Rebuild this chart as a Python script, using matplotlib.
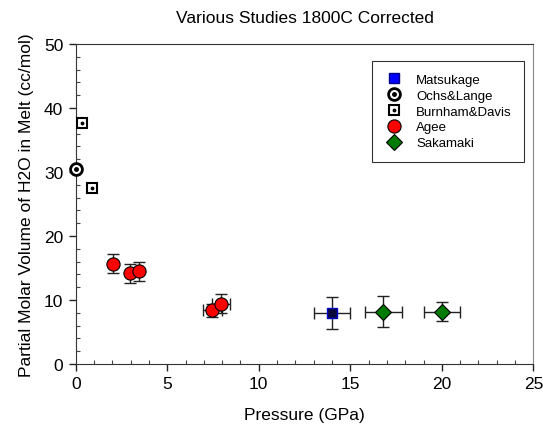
import matplotlib
matplotlib.use('Agg')
import matplotlib.pyplot as plt
from matplotlib.lines import Line2D
from matplotlib.ticker import MultipleLocator

plt.rcParams['font.family'] = ['Liberation Sans', 'DejaVu Sans']

# data
matsukage_p = [14.0]
matsukage_v = [8.0]
matsukage_perr = [1.0]
matsukage_verr = [2.5]

ochs_p = [0.0]
ochs_v = [30.5]

burnham_p = [0.33, 0.87]
burnham_v = [37.6, 27.5]

agee_p = [2.05, 2.96, 3.47, 7.47, 7.93]
agee_v = [15.7, 14.2, 14.5, 8.4, 9.4]
agee_perr = [0.0, 0.0, 0.0, 0.5, 0.5]
agee_verr = [1.5, 1.5, 1.5, 1.0, 1.5]

saka_p = [16.8, 20.0]
saka_v = [8.2, 8.2]
saka_perr = [1.0, 1.0]
saka_verr = [2.4, 1.5]

fig = plt.figure(figsize=(5.43, 4.27), dpi=100)
ax = fig.add_axes([0.1394, 0.1452, 0.8428, 0.7494])

eb = dict(fmt='none', ecolor='#222222', elinewidth=1, capsize=4, capthick=1, zorder=2)

ax.errorbar(agee_p, agee_v, xerr=agee_perr, yerr=agee_verr, **eb)
ax.errorbar(matsukage_p, matsukage_v, xerr=matsukage_perr, yerr=matsukage_verr, **eb)
ax.errorbar(saka_p, saka_v, xerr=saka_perr, yerr=saka_verr, **eb)

ax.plot(matsukage_p, matsukage_v, 's', ms=7, mfc='#0a0a3a', mec='#0000cc', mew=1, zorder=3)
ax.plot(saka_p, saka_v, 'D', ms=8, mfc='#007a00', mec='black', mew=0.8, zorder=3)
ax.plot(agee_p, agee_v, 'o', ms=9.5, mfc='#ff0000', mec='black', mew=0.8, zorder=3)

ax.plot(ochs_p, ochs_v, 'o', ms=8.5, mfc='white', mec='black', mew=2, zorder=4, clip_on=False)
ax.plot(ochs_p, ochs_v, '.', ms=5, color='black', zorder=6, clip_on=False)
ax.plot(burnham_p, burnham_v, 's', ms=7, mfc='white', mec='black', mew=1.5, zorder=4)
ax.plot(burnham_p, burnham_v, '.', ms=3.5, color='black', zorder=5)

ax.set_xlim(0, 25)
ax.set_ylim(0, 50)
ax.xaxis.set_major_locator(MultipleLocator(5))
ax.xaxis.set_minor_locator(MultipleLocator(1))
ax.yaxis.set_major_locator(MultipleLocator(10))
ax.yaxis.set_minor_locator(MultipleLocator(2))
ax.tick_params(which='major', direction='out', length=5, width=1, labelsize=12.5, colors='#222222', pad=4)
ax.tick_params(which='minor', direction='in', length=3, width=0.8, colors='#444444')
ax.tick_params(labelcolor='black')
for s in ['left', 'bottom', 'top']:
    ax.spines[s].set_color('#333333')
ax.spines['right'].set_color('#888888')

ax.set_xlabel('Pressure (GPa)', fontsize=12.5, labelpad=11)
ax.set_ylabel('Partial Molar Volume of H2O in Melt (cc/mol)', fontsize=12.5, labelpad=7)
ax.set_title('Various Studies 1800C Corrected', fontsize=12.5, pad=16)

handles = [
    Line2D([], [], ls='none', marker='s', ms=7, mfc='#0000ff', mec='#000088'),
    (Line2D([], [], ls='none', marker='o', ms=8.5, mfc='white', mec='black', mew=2),
     Line2D([], [], ls='none', marker='.', ms=5, color='black')),
    (Line2D([], [], ls='none', marker='s', ms=7, mfc='white', mec='black', mew=1.5),
     Line2D([], [], ls='none', marker='.', ms=3.5, color='black')),
    Line2D([], [], ls='none', marker='o', ms=9.5, mfc='#ff0000', mec='black', mew=0.8),
    Line2D([], [], ls='none', marker='D', ms=8, mfc='#007a00', mec='black', mew=0.8),
]
labels = ['Matsukage', 'Ochs&Lange', 'Burnham&Davis', 'Agee', 'Sakamaki']
leg = ax.legend(handles, labels, loc='upper left', bbox_to_anchor=(0.647, 0.946),
                fontsize=9.5, frameon=True, fancybox=False, edgecolor='black',
                handlelength=1.5, handletextpad=0.9, labelspacing=0.27,
                borderpad=0.95, borderaxespad=0)
leg.get_frame().set_linewidth(0.8)

fig.savefig('out.png', dpi=100)
